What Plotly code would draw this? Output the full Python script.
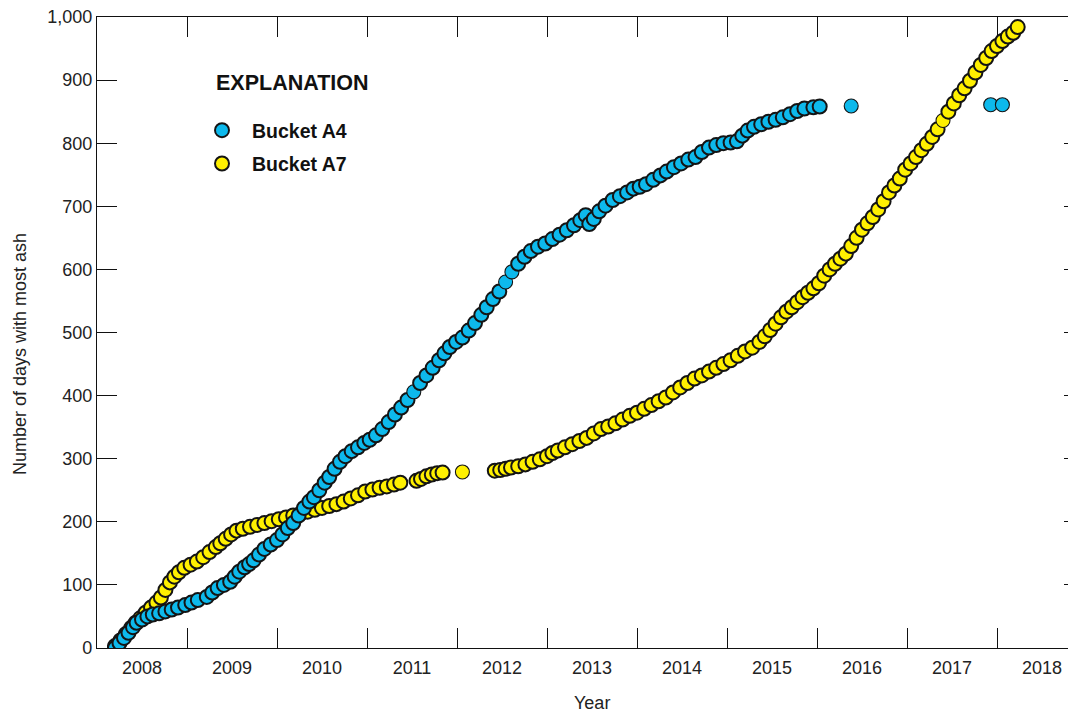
import plotly.graph_objects as go

# ---- data (decimal year, cumulative number of days) ----
a4_year = [2008.20, 2008.25, 2008.30, 2008.35, 2008.40, 2008.44, 2008.50, 2008.56, 2008.62, 2008.69,
           2008.76, 2008.83, 2008.90, 2008.98, 2009.05, 2009.12, 2009.22, 2009.28, 2009.34, 2009.41,
           2009.48, 2009.53, 2009.58, 2009.64, 2009.69, 2009.74, 2009.80, 2009.86, 2009.93, 2010.00,
           2010.06, 2010.12, 2010.18, 2010.24, 2010.30, 2010.36, 2010.41, 2010.47, 2010.53, 2010.58,
           2010.64, 2010.70, 2010.76, 2010.83, 2010.90, 2010.97, 2011.03, 2011.10, 2011.17, 2011.24,
           2011.31, 2011.38, 2011.45, 2011.52, 2011.59, 2011.66, 2011.73, 2011.80, 2011.86, 2011.92,
           2011.99, 2012.06, 2012.13, 2012.20, 2012.27, 2012.33, 2012.40, 2012.47, 2012.54, 2012.61,
           2012.68, 2012.75, 2012.82, 2012.90, 2012.98, 2013.06, 2013.14, 2013.22, 2013.30, 2013.37,
           2013.43, 2013.47, 2013.52, 2013.58, 2013.65, 2013.73, 2013.81, 2013.89, 2013.96, 2014.03,
           2014.10, 2014.18, 2014.26, 2014.33, 2014.41, 2014.49, 2014.57, 2014.65, 2014.72, 2014.80,
           2014.88, 2014.96, 2015.04, 2015.11, 2015.17, 2015.23, 2015.30, 2015.38, 2015.46, 2015.54,
           2015.62, 2015.70, 2015.78, 2015.86, 2015.96, 2016.03, 2016.38, 2017.93, 2018.06]
a4_days = [0, 8, 16, 24, 33, 40, 45, 50, 53, 55,
           58, 61, 64, 68, 72, 76, 81, 88, 95, 100,
           105, 113, 121, 128, 133, 139, 148, 157, 164, 171,
           180, 190, 198, 210, 222, 232, 239, 250, 262, 271,
           284, 295, 304, 312, 318, 325, 330, 337, 347, 358,
           370, 381, 393, 406, 420, 432, 444, 456, 467, 477,
           485, 492, 503, 515, 528, 540, 553, 565, 580, 596,
           609, 620, 629, 636, 641, 648, 655, 662, 670, 678,
           686, 672, 680, 692, 701, 710, 716, 722, 728, 731,
           735, 742, 749, 755, 762, 768, 774, 778, 786, 793,
           797, 800, 801, 803, 812, 820, 826, 830, 834, 837,
           841, 846, 851, 855, 857, 858, 859, 861, 861]

a7_year = [2008.20, 2008.26, 2008.32, 2008.38, 2008.43, 2008.48, 2008.54, 2008.60, 2008.66, 2008.71,
           2008.76, 2008.81, 2008.86, 2008.91, 2008.97, 2009.04, 2009.11, 2009.18, 2009.25, 2009.32,
           2009.37, 2009.43, 2009.49, 2009.55, 2009.62, 2009.70, 2009.78, 2009.86, 2009.94, 2010.02,
           2010.10, 2010.18, 2010.26, 2010.34, 2010.42, 2010.50, 2010.58, 2010.66, 2010.74, 2010.82,
           2010.90, 2010.98, 2011.06, 2011.14, 2011.22, 2011.30, 2011.37, 2011.55, 2011.60, 2011.66,
           2011.72, 2011.78, 2011.84, 2012.06, 2012.42, 2012.48, 2012.54, 2012.60, 2012.68, 2012.76,
           2012.84, 2012.92, 2013.00, 2013.06, 2013.12, 2013.20, 2013.28, 2013.36, 2013.44, 2013.52,
           2013.60, 2013.68, 2013.76, 2013.84, 2013.92, 2014.00, 2014.08, 2014.16, 2014.24, 2014.32,
           2014.40, 2014.48, 2014.56, 2014.64, 2014.72, 2014.80, 2014.88, 2014.96, 2015.04, 2015.12,
           2015.20, 2015.28, 2015.36, 2015.42, 2015.48, 2015.54, 2015.60, 2015.66, 2015.72, 2015.78,
           2015.84, 2015.90, 2015.96, 2016.02, 2016.08, 2016.14, 2016.20, 2016.26, 2016.32, 2016.38,
           2016.44, 2016.50, 2016.56, 2016.62, 2016.68, 2016.74, 2016.80, 2016.86, 2016.92, 2016.98,
           2017.04, 2017.10, 2017.16, 2017.22, 2017.28, 2017.34, 2017.40, 2017.46, 2017.52, 2017.58,
           2017.64, 2017.70, 2017.76, 2017.82, 2017.88, 2017.94, 2018.00, 2018.06, 2018.12, 2018.18,
           2018.23]
a7_days = [3, 12, 22, 32, 40, 47, 56, 64, 72, 80,
           92, 104, 113, 120, 127, 132, 137, 144, 152, 160,
           166, 173, 180, 186, 189, 192, 195, 198, 201, 204,
           207, 210, 213, 216, 219, 222, 225, 228, 232, 237,
           242, 248, 251, 254, 256, 259, 262, 265, 268, 272,
           275, 277, 278, 279, 281, 282, 284, 286, 288, 291,
           295, 299, 304, 309, 313, 318, 323, 328, 333, 340,
           347, 351, 356, 362, 368, 373, 379, 385, 391, 397,
           405, 413, 420, 427, 432, 438, 444, 450, 456, 463,
           470, 476, 485, 494, 504, 514, 524, 533, 540, 548,
           556, 563, 570, 578, 590, 600, 609, 617, 625, 637,
           650, 663, 673, 683, 695, 708, 722, 733, 744, 758,
           768, 778, 789, 799, 810, 822, 836, 850, 863, 876,
           887, 899, 912, 924, 935, 946, 954, 962, 969, 975,
           984]

year_boundaries = list(range(2009, 2020))
year_labels = [str(y) for y in range(2008, 2019)]
y_ticks = list(range(0, 1001, 100))

FONT = "Liberation Sans, Arial, sans-serif"
BLUE = "#0DB9EC"
YELLOW = "#FFF000"
EDGE = "#141414"

# The page adds an 8 px body margin, so the figure is laid out 8 px up/left.
OFF = 8
W, H = 1076, 713
L, T = 97 - OFF, 17 - OFF          # plot-area left / top inside the figure
PH = 631
PW = W - L                          # plot area runs to the figure's right edge
B = H - T - PH


def px_x(page_px):
    return (page_px - OFF - L) / PW


def px_y(page_px):
    return (T + PH - (page_px - OFF)) / PH


def edge_widths(xs, ys):
    # heavier outline where markers are packed tightly (dense runs look dark)
    out = []
    n = len(xs)
    for i in range(n):
        d = []
        for j in (i - 1, i + 1):
            if 0 <= j < n:
                dx = (xs[j] - xs[i]) * 90
                dy = (ys[j] - ys[i]) * 0.631
                d.append((dx * dx + dy * dy) ** 0.5)
        out.append(2.0 if min(d) < 10 else 1.1)
    return out


fig = go.Figure()
fig.add_trace(go.Scatter(
    x=a7_year, y=a7_days, mode="markers", name="Bucket A7",
    legendrank=2, legendgroup="a7",
    marker=dict(size=14, color=YELLOW, line=dict(color=EDGE, width=edge_widths(a7_year, a7_days))),
))
fig.add_trace(go.Scatter(
    x=a4_year, y=a4_days, mode="markers", name="Bucket A4",
    legendrank=1, legendgroup="a4",
    marker=dict(size=14, color=BLUE, line=dict(color=EDGE, width=edge_widths(a4_year, a4_days))),
))
# invisible trace carrying the centred year labels
fig.add_trace(go.Scatter(x=[2008.5], y=[None], xaxis="x2", showlegend=False, hoverinfo="skip"))

x_end = 2008 + PW / 90.0

fig.update_layout(
    width=W, height=H,
    margin=dict(l=L, r=0, t=T, b=B),
    paper_bgcolor="white", plot_bgcolor="white",
    font=dict(family=FONT, size=18, color="#222222"),
    showlegend=True,
    legend=dict(
        x=px_x(192), y=px_y(111), xanchor="left", yanchor="top",
        bgcolor="rgba(0,0,0,0)",
        traceorder="grouped", tracegroupgap=5,
        itemwidth=50,
        font=dict(size=19.5, family=FONT, color="#111111", weight="bold"),
    ),
    xaxis=dict(
        range=[2008, x_end], tickmode="array", tickvals=year_boundaries,
        ticktext=["" for _ in year_boundaries],
        ticks="inside", ticklen=20, tickwidth=1.3, tickcolor="#111111",
        showline=True, linecolor="#111111", linewidth=1.3, mirror="ticks",
        showgrid=False, zeroline=False, automargin=False,
    ),
    xaxis2=dict(
        overlaying="x", matches="x", side="bottom",
        tickmode="array", tickvals=[y + 0.5 for y in range(2008, 2019)], ticktext=year_labels,
        ticks="", showline=False, showgrid=False, zeroline=False, automargin=False,
        tickfont=dict(size=18), ticklabelstandoff=7,
    ),
    yaxis=dict(
        range=[0, 1000], tickmode="array", tickvals=y_ticks, tickformat=",",
        ticks="inside", ticklen=20, tickwidth=1.3, tickcolor="#111111",
        showline=True, linecolor="#111111", linewidth=1.3, mirror="ticks",
        showgrid=False, zeroline=False, automargin=False,
        ticklabeloverflow="allow",
    ),
    annotations=[
        dict(text="<b>EXPLANATION</b>", xref="paper", yref="paper", x=px_x(214), y=px_y(83),
             xanchor="left", yanchor="middle", showarrow=False,
             font=dict(size=21.5, color="#111111")),
        dict(text="Year", xref="paper", yref="paper", x=px_x(592), y=px_y(703),
             xanchor="center", yanchor="middle", showarrow=False,
             font=dict(size=18, color="#222222")),
        dict(text="Number of days with most ash", xref="paper", yref="paper",
             x=px_x(20), y=px_y(354), textangle=-90,
             xanchor="center", yanchor="middle", showarrow=False,
             font=dict(size=18, color="#222222")),
    ],
)

fig.write_html("out.html")
